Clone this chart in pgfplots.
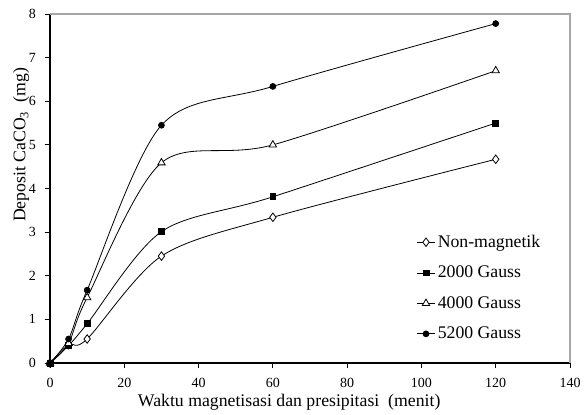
\documentclass[border=0pt]{standalone}
\usepackage{pgfplots}
\pgfplotsset{compat=1.18}
\usepackage{fontspec}
\setmainfont{Liberation Serif}
\begin{document}
\begin{tikzpicture}
\begin{axis}[
  scale only axis,
  width=390pt, height=261.75pt,
  xmin=0, xmax=140, ymin=0, ymax=8,
  xtick={0,20,...,140}, ytick={0,1,...,8},
  axis x line*=bottom, axis y line*=left,
  axis line style={black, line width=0.8pt},
  tick align=outside, tick pos=left,
  major tick length=4pt,
  tick style={black, line width=0.6pt},
  /pgf/number format/assume math mode=true,
  ticklabel style={font=\fontsize{10.5}{12}\selectfont},
  xticklabel style={yshift=-4pt},
  yticklabel style={xshift=-3pt},
  label style={font=\fontsize{13.3}{15}\selectfont},
  xlabel={Waktu magnetisasi dan presipitasi\ \ (menit)},
  ylabel={Deposit CaCO\textsubscript{3}\ \ (mg)},
  xlabel style={at={(axis description cs:0.46,0)}, anchor=north, yshift=-20pt},
  ylabel style={at={(axis description cs:0,0.625)}, anchor=south, yshift=12pt},
  legend style={draw=none, fill=none, at={(axis description cs:0.705,0.375)}, anchor=north west,
    font=\fontsize{13.3}{15}\selectfont, row sep=8.5pt, inner sep=0pt},
  legend cell align=left,
  legend image code/.code={\draw[mark repeat=2,mark phase=2] plot coordinates {(0cm,0cm)(0.23cm,0cm)(0.46cm,0cm)};},
  every axis plot/.append style={black, line width=0.6pt, smooth, tension=0.5},
  clip=false,
]
\addplot[mark=diamond*, mark options={fill=white, scale=1.0}, mark size=3.2pt] coordinates {(0,0) (5,0.42) (10,0.55) (30,2.45) (60,3.34) (120,4.67)};
\addlegendentry{Non-magnetik}
\addplot[mark=square*, mark options={fill=black}, mark size=2.2pt] coordinates {(0,0) (5,0.40) (10,0.90) (30,3.01) (60,3.81) (120,5.50)};
\addlegendentry{2000 Gauss}
\addplot[mark=triangle*, mark options={fill=white}, mark size=3.2pt] coordinates {(0,0) (5,0.45) (10,1.50) (30,4.59) (60,5.00) (120,6.70)};
\addlegendentry{4000 Gauss}
\addplot[mark=*, mark options={fill=black}, mark size=2.2pt] coordinates {(0,0) (5,0.55) (10,1.67) (30,5.45) (60,6.34) (120,7.78)};
\addlegendentry{5200 Gauss}
\draw[gray!70, line width=0.8pt] (rel axis cs:0,1) -- (rel axis cs:1,1) -- (rel axis cs:1,0);
\path ([xshift=-37.5pt,yshift=-36.75pt]rel axis cs:0,0) rectangle ([xshift=12.75pt,yshift=10.5pt]rel axis cs:1,1);
\end{axis}
\end{tikzpicture}
\end{document}
